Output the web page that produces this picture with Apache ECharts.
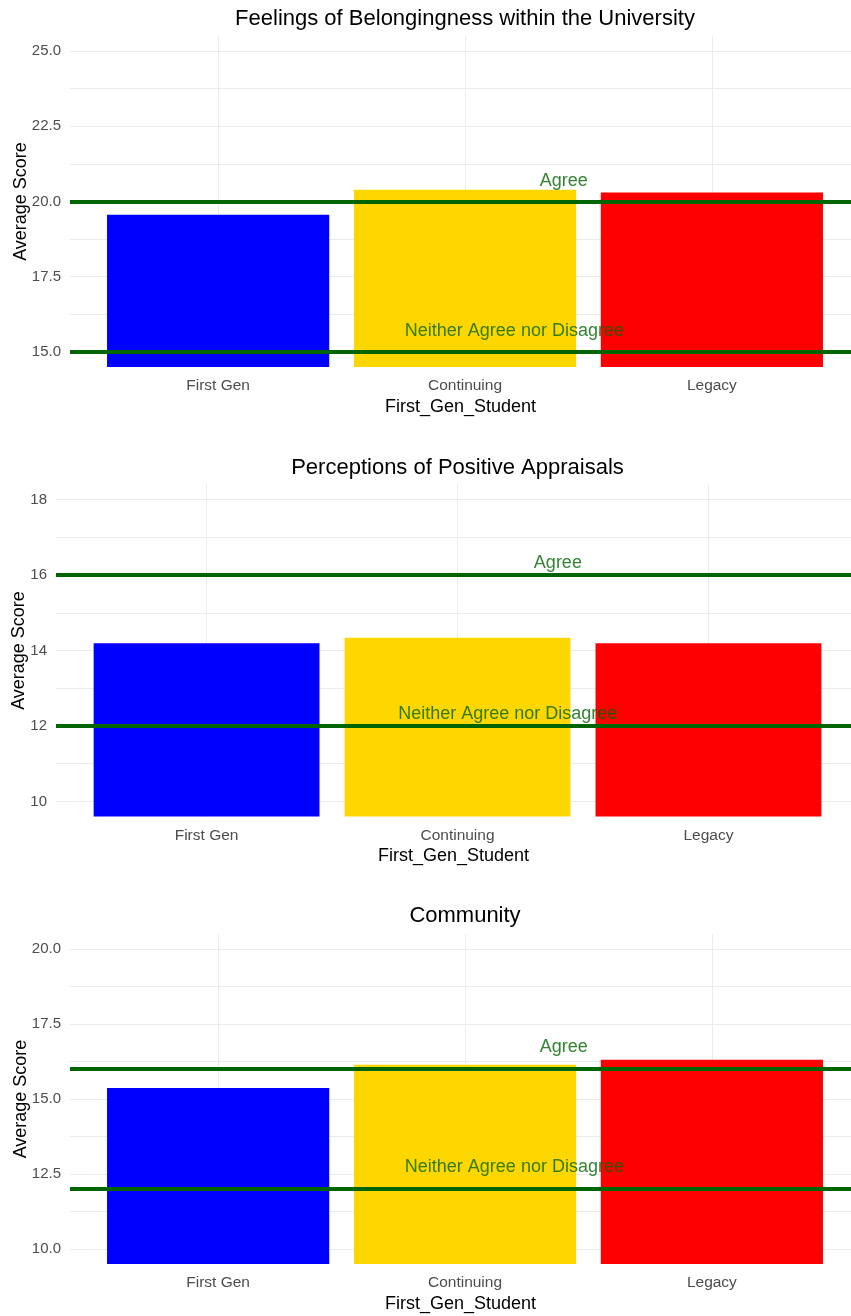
<!DOCTYPE html>
<html>
<head>
<meta charset="utf-8">
<title>First-generation student survey scores</title>
<script src="https://cdn.jsdelivr.net/npm/echarts@6/dist/echarts.min.js"></script>
<style>
  html, body { margin: 0; padding: 0; background: #ffffff; }
  #chart { width: 851px; height: 1316px; }
</style>
</head>
<body>
<div id="chart"></div>
<script>
// Student groups and their bar colours
const categories = ['First Gen', 'Continuing', 'Legacy'];
const barColors = ['#0000FF', '#FFD700', '#FF0000'];

// Average scores per group
const belongingScores = [19.56, 20.39, 20.30];
const appraisalScores = [14.19, 14.34, 14.19];
const communityScores = [15.37, 16.14, 16.31];

// Labelled y-axis ticks
const belongingTicks = [15, 17.5, 20, 22.5, 25];
const appraisalTicks = [10, 12, 14, 16, 18];
const communityTicks = [10, 12.5, 15, 17.5, 20];

// Visible y ranges
const belongingRange = [14.5, 25.5];
const appraisalRange = [9.6, 18.4];
const communityRange = [9.5, 20.5];

// Reference levels: [Agree, Neither Agree nor Disagree]
const refLabels = ['Agree', 'Neither Agree nor Disagree'];
const belongingRefs = [20, 15];
const appraisalRefs = [16, 12];
const communityRefs = [16, 12];

// Where the reference captions sit (x in group units, y in score units)
const refLabelX = [2.4, 2.2];
const belongingLabelY = [20.69, 15.71];
const appraisalLabelY = [16.31, 12.31];
const communityLabelY = [16.73, 12.73];

const FONT = '"Liberation Sans", Arial, sans-serif';
const GRID_COLOR = '#EBEBEB';
const REF_COLOR = '#006400';
const CANVAS_W = 851;

// Discrete x scale runs from 0.4 to 3.6; the panel is wider than the canvas,
// so the drawn grid stops at the canvas edge and the x max is trimmed to suit.
const X_MIN = 0.4, X_SPAN = 3.2;

const panels = [
  { title: 'Feelings of Belongingness within the University', scores: belongingScores, ticks: belongingTicks,
    range: belongingRange, refs: belongingRefs, labelY: belongingLabelY, decimals: 1,
    left: 70, fullWidth: 790, top: 36, height: 331, titleTop: 8, yNameGap: 40 },
  { title: 'Perceptions of Positive Appraisals', scores: appraisalScores, ticks: appraisalTicks,
    range: appraisalRange, refs: appraisalRefs, labelY: appraisalLabelY, decimals: 0,
    left: 56, fullWidth: 803, top: 484.5, height: 332, titleTop: 457, yNameGap: 28 },
  { title: 'Community', scores: communityScores, ticks: communityTicks,
    range: communityRange, refs: communityRefs, labelY: communityLabelY, decimals: 1,
    left: 70, fullWidth: 790, top: 934, height: 330, titleTop: 905, yNameGap: 40 }
];

// Major ticks plus the minor lines halfway between them
function gridValues(ticks) {
  const out = [];
  for (let i = 0; i < ticks.length; i++) {
    out.push(ticks[i]);
    if (i < ticks.length - 1) out.push((ticks[i] + ticks[i + 1]) / 2);
  }
  return out;
}

const option = {
  backgroundColor: '#ffffff',
  animation: false,
  title: [],
  grid: [],
  xAxis: [],
  yAxis: [],
  series: []
};

panels.forEach((p, i) => {
  const visibleWidth = CANVAS_W - p.left;
  const xMax = X_MIN + X_SPAN * visibleWidth / p.fullWidth;

  option.title.push({
    text: p.title,
    left: p.left + p.fullWidth / 2,
    top: p.titleTop,
    padding: 0,
    textAlign: 'center',
    textStyle: { fontFamily: FONT, fontSize: 22, fontWeight: 'normal', color: '#000000' }
  });
  option.grid.push({
    left: p.left, top: p.top, width: visibleWidth, height: p.height,
    containLabel: false, outerBoundsMode: 'none'
  });

  option.xAxis.push({
    type: 'value',
    gridIndex: i,
    min: X_MIN,
    max: xMax,
    name: 'First_Gen_Student',
    nameLocation: 'middle',
    nameGap: 31,
    nameMoveOverlap: false,
    nameTextStyle: { fontFamily: FONT, fontSize: 18, color: '#000000' },
    axisLine: { show: false },
    axisTick: { show: false, customValues: [1, 2, 3] },
    axisLabel: {
      customValues: [1, 2, 3],
      margin: 11,
      fontFamily: FONT,
      fontSize: 15.5,
      color: '#4D4D4D',
      formatter: v => categories[Math.round(v) - 1]
    },
    splitLine: { show: true, lineStyle: { color: GRID_COLOR, width: 1 } }
  });

  option.yAxis.push({
    type: 'value',
    gridIndex: i,
    min: p.range[0],
    max: p.range[1],
    name: 'Average Score',
    nameLocation: 'middle',
    nameGap: p.yNameGap,
    nameMoveOverlap: false,
    nameTextStyle: { fontFamily: FONT, fontSize: 18, color: '#000000' },
    axisLine: { show: false },
    axisTick: { show: false, customValues: gridValues(p.ticks) },
    axisLabel: {
      customValues: p.ticks,
      margin: 9,
      fontFamily: FONT,
      fontSize: 15,
      color: '#4D4D4D',
      formatter: v => Number(v).toFixed(p.decimals)
    },
    splitLine: { show: true, lineStyle: { color: GRID_COLOR, width: 1 } }
  });

  option.series.push({
    type: 'bar',
    xAxisIndex: i,
    yAxisIndex: i,
    z: 2,
    barWidth: p.fullWidth / X_SPAN * 0.9,
    data: p.scores.map((s, k) => ({ value: [k + 1, s], itemStyle: { color: barColors[k] } }))
  });

  option.series.push({
    type: 'scatter',
    xAxisIndex: i,
    yAxisIndex: i,
    z: 5,
    symbolSize: 0,
    silent: true,
    label: {
      show: true,
      position: 'inside',
      fontFamily: FONT,
      fontSize: 18,
      color: REF_COLOR,
      formatter: '{b}'
    },
    data: refLabels.map((t, k) => ({ name: t, value: [refLabelX[k], p.labelY[k]] })),
    markLine: {
      silent: true,
      symbol: 'none',
      label: { show: false },
      lineStyle: { color: REF_COLOR, width: 4, type: 'solid' },
      data: p.refs.map(r => ({ yAxis: r }))
    }
  });
});

const chart = echarts.init(document.getElementById('chart'), null, { renderer: 'canvas' });
chart.setOption(option);
</script>
</body>
</html>
